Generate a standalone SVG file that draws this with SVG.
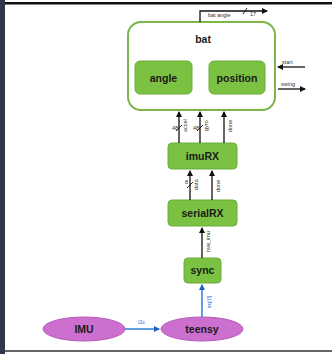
<svg xmlns="http://www.w3.org/2000/svg" width="332" height="354" viewBox="0 0 332 354">
<defs>
<marker id="ah" markerWidth="6" markerHeight="6" refX="5" refY="3" orient="auto" markerUnits="userSpaceOnUse"><path d="M0,0 L6,3 L0,6 Z" fill="#111"/></marker>
<marker id="ahb" markerWidth="6" markerHeight="6" refX="5" refY="3" orient="auto" markerUnits="userSpaceOnUse"><path d="M0,0 L6,3 L0,6 Z" fill="#1f5fbf"/></marker>
<style>
.blk{fill:#7cc242;stroke:#6aae36;stroke-width:1}
.ell{fill:#cc6fcf;stroke:#b65ab9;stroke-width:1}
.t{font-family:"Liberation Sans",Arial,sans-serif;font-weight:bold;font-size:10.5px;fill:#1a1a1a;text-anchor:middle}
.s{font-family:"Liberation Sans",Arial,sans-serif;font-size:5.5px;fill:#333}
.sb{font-family:"Liberation Sans",Arial,sans-serif;font-size:5.5px;fill:#2a6fd0}
.w{stroke:#111;stroke-width:1.3;fill:none}
.wb{stroke:#2a7fd8;stroke-width:1.5;fill:none}
.sl{stroke:#111;stroke-width:0.9}
</style>
</defs>
<rect x="0" y="0" width="332" height="354" fill="#fff"/>
<rect x="0" y="0" width="5" height="354" fill="#2d3748"/>
<rect x="5" y="2" width="327" height="2.5" fill="#111"/>
<rect x="5" y="350" width="327" height="2" fill="#666"/>

<g id="bat">
<rect x="128" y="22" width="147" height="88" rx="13" fill="#fff" stroke="#7ab648" stroke-width="2"/>
<text class="t" x="203" y="43">bat</text>
</g>
<g id="angle">
<rect class="blk" x="135" y="61" width="57" height="33" rx="5"/>
<text class="t" x="163.5" y="81.5">angle</text>
</g>
<g id="position">
<rect class="blk" x="209" y="61" width="56" height="33" rx="5"/>
<text class="t" x="237" y="81.5">position</text>
</g>
<g id="imuRX">
<rect class="blk" x="168" y="143" width="69" height="26" rx="4"/>
<text class="t" x="202.5" y="160">imuRX</text>
</g>
<g id="serialRX">
<rect class="blk" x="168" y="200" width="69" height="26" rx="4"/>
<text class="t" x="202.5" y="217">serialRX</text>
</g>
<g id="sync">
<rect class="blk" x="184" y="258" width="37" height="25" rx="4"/>
<text class="t" x="202.5" y="274">sync</text>
</g>
<g id="IMU">
<ellipse class="ell" cx="84" cy="329" rx="41" ry="12"/>
<text class="t" x="84" y="333">IMU</text>
</g>
<g id="teensy">
<ellipse class="ell" cx="202" cy="329" rx="41" ry="12"/>
<text class="t" x="202" y="333">teensy</text>
</g>

<g id="connectors">
<path class="w" d="M200,22 V11 H267" marker-end="url(#ah)"/>
<text class="s" x="208" y="17">bat angle</text>
<line class="sl" x1="243" y1="14" x2="247" y2="8"/>
<text class="s" x="250" y="16">17</text>

<line class="w" x1="305" y1="67" x2="278" y2="67" marker-end="url(#ah)"/>
<text class="s" x="282" y="64">start</text>
<line class="w" x1="278" y1="89" x2="305" y2="89" marker-end="url(#ah)"/>
<text class="s" x="281" y="86">swing</text>

<line class="w" x1="179" y1="143" x2="179" y2="112" marker-end="url(#ah)"/>
<line class="sl" x1="176" y1="131" x2="182" y2="125"/>
<text class="s" x="172" y="130">48</text>
<text class="s" transform="translate(187,132) rotate(-90)">accel</text>
<line class="w" x1="200" y1="143" x2="200" y2="112" marker-end="url(#ah)"/>
<line class="sl" x1="197" y1="131" x2="203" y2="125"/>
<text class="s" x="193" y="130">48</text>
<text class="s" transform="translate(208,131) rotate(-90)">gyro</text>
<line class="w" x1="224" y1="143" x2="224" y2="112" marker-end="url(#ah)"/>
<text class="s" transform="translate(232,132) rotate(-90)">done</text>

<line class="w" x1="190" y1="200" x2="190" y2="171" marker-end="url(#ah)"/>
<line class="sl" x1="187" y1="188" x2="193" y2="182"/>
<text class="s" x="185" y="184">8</text>
<text class="s" transform="translate(198,190) rotate(-90)">data</text>
<line class="w" x1="212" y1="200" x2="212" y2="171" marker-end="url(#ah)"/>
<text class="s" transform="translate(220,192) rotate(-90)">done</text>

<line class="w" x1="202" y1="258" x2="202" y2="228" marker-end="url(#ah)"/>
<text class="s" transform="translate(210,252) rotate(-90)">raw_imu</text>

<line class="wb" x1="202" y1="317" x2="202" y2="285" marker-end="url(#ahb)"/>
<text class="sb" transform="translate(211,308) rotate(-90)">irq[0]</text>

<line class="wb" x1="125" y1="329" x2="159" y2="329" marker-end="url(#ahb)"/>
<text class="sb" x="138" y="324">i2c</text>
</g>
</svg>
